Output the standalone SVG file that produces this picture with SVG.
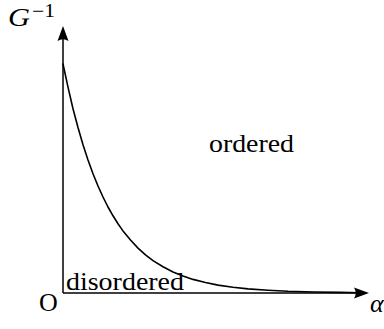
<svg xmlns="http://www.w3.org/2000/svg" width="384" height="329" viewBox="0 0 384 329">
<style>
.ax{stroke:#000;stroke-width:1.5;fill:none}
.cv{stroke:#000;stroke-width:1.6;fill:none;stroke-linejoin:round;stroke-linecap:round}
.hd{fill:#000;stroke:none}
.t{font-family:"Liberation Serif","DejaVu Serif",serif;fill:#000}
.it{font-style:italic}
</style>
<rect width="384" height="329" fill="#fff"/>
<g id="axes">
<line class="ax" x1="63" y1="293" x2="63" y2="36"/>
<line class="ax" x1="63" y1="293" x2="358" y2="293"/>
<path class="hd" d="M63,26 L68.5,41 Q63,37.5 57.5,41 Z"/>
<path class="hd" d="M369,293 L354,298.5 Q357.5,293 354,287.5 Z"/>
</g>
<g id="curve">
<path class="cv" d="M63,64 L68,87.2 L73,108.7 L78,127.5 L83,144.7 L88,160 L93,173.7 L98,186 L103,197 L108,207 L113,215.8 L118,223.7 L123,230.9 L130.5,240 L138,248.1 L145.5,254.8 L153,260.6 L163,266.8 L173,272 L183,276 L193,279.4 L205.5,282.5 L218,285.1 L233,287.2 L248,288.9 L268,290.3 L288,291.3 L314,292 L340,292.4 L360,292.7"/>
</g>
<g id="labels">
<text class="t it" x="8" y="26" font-size="26" textLength="22" lengthAdjust="spacingAndGlyphs">G</text>
<text class="t" x="32" y="17" font-size="18" textLength="23" lengthAdjust="spacingAndGlyphs">−1</text>
<text class="t" x="209" y="152" font-size="26" textLength="85" lengthAdjust="spacingAndGlyphs">ordered</text>
<text class="t" x="66" y="290" font-size="26" textLength="118" lengthAdjust="spacingAndGlyphs">disordered</text>
<text class="t" x="39" y="311" font-size="26">O</text>
<text class="t it" x="370" y="312" font-size="26">α</text>
</g>
</svg>
